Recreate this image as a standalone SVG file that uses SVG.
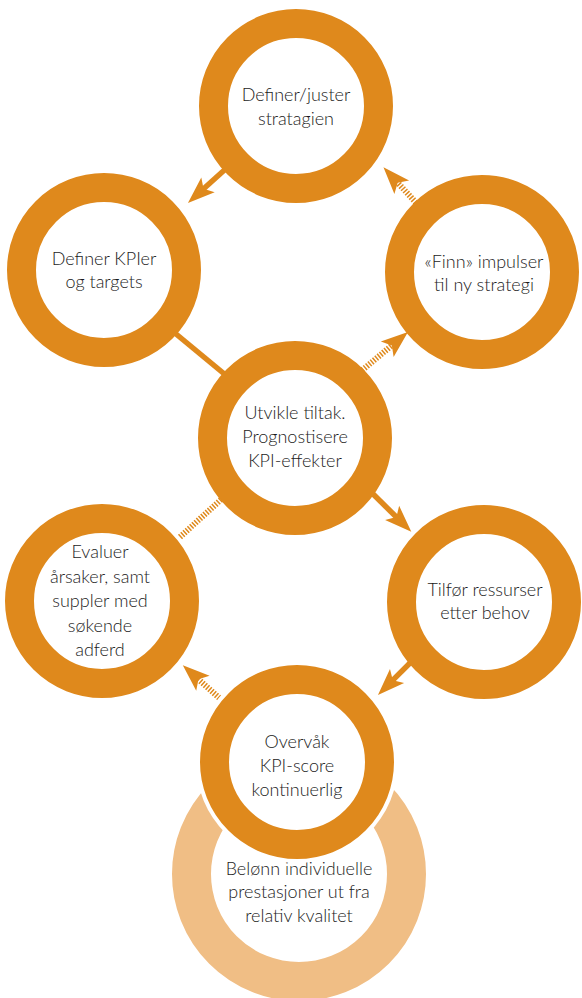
<svg xmlns="http://www.w3.org/2000/svg" width="582" height="998" viewBox="0 0 582 998">
  <defs>
    <style>
      .ring { fill: none; stroke: #DF891C; stroke-width: 29; }
      .halo { fill: #ffffff; }
      .soft { fill: none; stroke: #F0BE85; stroke-width: 39; }
      .solid { fill: none; stroke: #DF891C; stroke-width: 5.5; }
      .dotted { fill: none; stroke: #DF891C; stroke-width: 6; stroke-dasharray: 1.5 1.5; }
      .label { font-family: Lato, "Open Sans", sans-serif; font-size: 18px; font-weight: 300; fill: #1c1c1c; text-anchor: middle; }
    </style>
    <!-- swept arrowhead; tip lies 20 units ahead of the shaft end -->
    <marker id="head" markerUnits="userSpaceOnUse" markerWidth="30" markerHeight="24" viewBox="-8 -12 30 24" refX="0" refY="0" orient="auto" overflow="visible">
      <path d="M20,0 L-7,-10 L-1,0 L-7,10 Z" fill="#DF891C"/>
    </marker>
  </defs>

  <rect width="582" height="998" fill="#ffffff"/>

  <!-- connectors -->
  <g id="connectors">
    <line class="solid" x1="230" y1="165" x2="202.8" y2="189.5" marker-end="url(#head)"/>
    <line class="dotted" x1="420" y1="207" x2="397" y2="182" marker-end="url(#head)"/>
    <line class="solid" x1="170" y1="329" x2="228" y2="377"/>
    <line class="dotted" x1="360" y1="372" x2="392.6" y2="344.8" marker-end="url(#head)"/>
    <line class="dotted" x1="180" y1="537" x2="225" y2="496"/>
    <line class="solid" x1="368" y1="489" x2="397.1" y2="517.8" marker-end="url(#head)"/>
    <line class="dotted" x1="226" y1="704" x2="197.7" y2="678.6" marker-end="url(#head)"/>
    <line class="solid" x1="418" y1="655" x2="392.1" y2="680.9" marker-end="url(#head)"/>
  </g>

  <g id="reward">
    <circle class="soft" cx="299" cy="874" r="107.5"/>
    <text class="label" x="299" y="875">Belønn individuelle</text>
    <text class="label" x="299" y="898">prestasjoner ut fra</text>
    <text class="label" x="299" y="922">relativ kvalitet</text>
  </g>

  <g id="strategy">
    <circle class="ring" cx="296" cy="106" r="82.5"/>
    <text class="label" x="296" y="101">Definer/juster</text>
    <text class="label" x="296" y="125">stratagien</text>
  </g>

  <g id="kpi">
    <circle class="ring" cx="104" cy="270" r="82.5"/>
    <text class="label" x="104" y="265">Definer KPIer</text>
    <text class="label" x="104" y="288">og targets</text>
  </g>

  <g id="impulses">
    <circle class="ring" cx="482" cy="272" r="82.5"/>
    <text class="label" x="484" y="268">«Finn» impulser</text>
    <text class="label" x="484" y="291">til ny strategi</text>
  </g>

  <g id="actions">
    <circle class="ring" cx="295" cy="438" r="82.5"/>
    <text class="label" x="295" y="419">Utvikle tiltak.</text>
    <text class="label" x="295" y="443">Prognostisere</text>
    <text class="label" x="295" y="467">KPI-effekter</text>
  </g>

  <g id="evaluate">
    <circle class="ring" cx="102" cy="601" r="82.5"/>
    <text class="label" x="100" y="558">Evaluer</text>
    <text class="label" x="100" y="583">årsaker, samt</text>
    <text class="label" x="100" y="607">suppler med</text>
    <text class="label" x="100" y="632">søkende</text>
    <text class="label" x="100" y="656">adferd</text>
  </g>

  <g id="resources">
    <circle class="ring" cx="484" cy="602" r="82.5"/>
    <text class="label" x="485" y="596">Tilfør ressurser</text>
    <text class="label" x="485" y="619">etter behov</text>
  </g>

  <g id="monitor">
    <circle class="halo" cx="297" cy="762" r="101"/>
    <circle class="ring" cx="297" cy="762" r="82.5"/>
    <text class="label" x="297" y="748">Overvåk</text>
    <text class="label" x="297" y="772">KPI-score</text>
    <text class="label" x="297" y="796">kontinuerlig</text>
  </g>
</svg>
